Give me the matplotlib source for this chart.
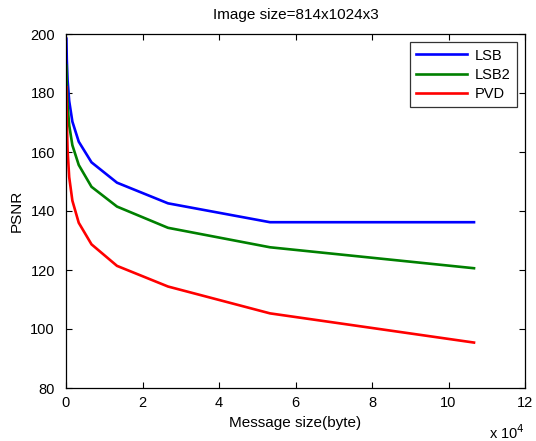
import matplotlib
matplotlib.use("Agg")
import matplotlib.pyplot as plt
import numpy as np

plt.rcParams['font.family'] = ['Liberation Sans', 'DejaVu Sans']

message_size = [104, 208, 417, 833, 1667, 3333, 6667, 13333, 26667, 53333, 106667]
psnr_lsb = [198.4, 191.3, 184.3, 177.3, 170.3, 163.5, 156.5, 149.6, 142.6, 136.2, 136.2]
psnr_lsb2 = [189.3, 182.6, 175.9, 169.1, 162.3, 155.6, 148.2, 141.5, 134.3, 127.7, 120.6]
psnr_pvd = [182.0, 170.5, 160.5, 151.5, 143.5, 136.0, 128.7, 121.4, 114.4, 105.3, 95.4]
series_names = ["LSB", "LSB2", "PVD"]
xtick_vals = [0, 20000, 40000, 60000, 80000, 100000, 120000]
xtick_labels = ["0", "2", "4", "6", "8", "10", "12"]
ytick_vals = [80, 100, 120, 140, 160, 180, 200]

fig = plt.figure(figsize=(5.36, 4.41), dpi=100)
ax = fig.add_axes([66/536, 1 - 388/441, (525-66)/536, (388-34)/441])

colors = ["#0000ff", "#008000", "#ff0000"]
for ys, name, c in zip([psnr_lsb, psnr_lsb2, psnr_pvd], series_names, colors):
    ax.plot(message_size, ys, color=c, lw=1.9, label=name, solid_joinstyle='round')

ax.set_xlim(0, 120000)
ax.set_ylim(80, 200)
ax.set_xticks(xtick_vals)
ax.set_xticklabels(xtick_labels)
ax.set_yticks(ytick_vals)
ax.tick_params(direction='in', top=True, right=True, length=4, width=0.8, labelsize=10.5)
ax.tick_params(axis='y', pad=8)
ax.tick_params(axis='x', pad=6)
for s in ax.spines.values():
    s.set_linewidth(0.9)

ax.set_xlabel("Message size(byte)", fontsize=11, labelpad=4)
ax.set_ylabel("PSNR", fontsize=11, labelpad=5)
ax.set_title("Image size=814x1024x3", fontsize=11, pad=11)
fig.text(489/536, 1 - 433/441, r"x 10$^4$", fontsize=10.5, va='center', ha='left')

leg = ax.legend(loc='upper right', fontsize=10.5, frameon=True, fancybox=False,
                edgecolor='black', borderaxespad=0.55, handlelength=3.5,
                labelspacing=0.35, borderpad=0.45, handletextpad=0.5)
leg.get_frame().set_linewidth(0.9)

fig.savefig("out.png", dpi=100)
